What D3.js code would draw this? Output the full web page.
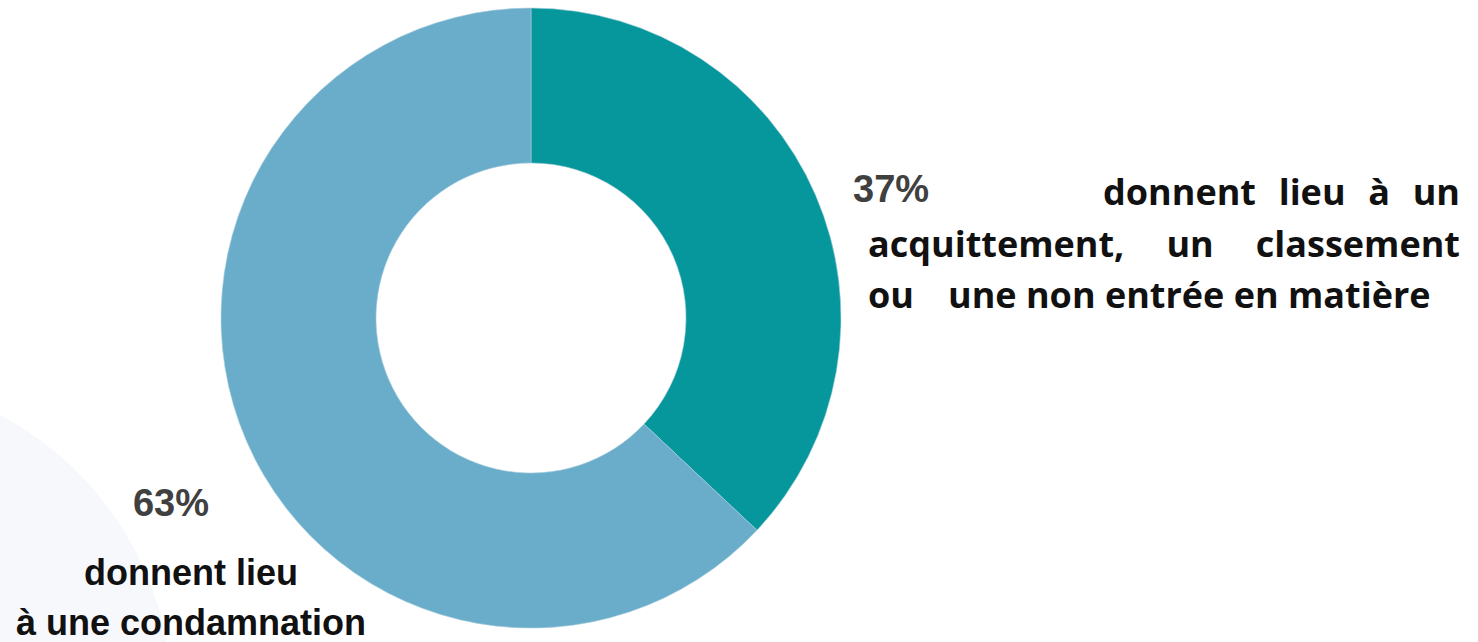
<!DOCTYPE html>
<html>
<head>
<meta charset="utf-8">
<script src="https://cdn.jsdelivr.net/npm/d3@7"></script>
<style>
  body { margin: 0; background: #fff; }
  svg { display: block; }
</style>
</head>
<body>
<div id="chart"></div>
<script>
const categories = ["acquittement", "condamnation"];
const shares = [37, 63];
const percentLabels = ["37%", "63%"];
const colors = ["#06979c", "#6aadca"];

const rightLines = [
  ["donnent", "lieu", "à", "un"],
  ["acquittement,", "un", "classement"],
  ["ou", "une non entrée en matière"]
];
const leftLines = ["donnent lieu", "à une condamnation"];

const width = 1478, height = 642;
const cx = 531, cy = 318, rOuter = 310, rInner = 155;

const svg = d3.select("#chart").append("svg")
  .attr("width", width)
  .attr("height", height);

// faint background shape bottom-left
svg.append("circle")
  .attr("cx", -150)
  .attr("cy", 700)
  .attr("r", 322)
  .attr("fill", "#f6f8fb");

const pie = d3.pie().sort(null).value(d => d);
const arc = d3.arc().innerRadius(rInner).outerRadius(rOuter);

const g = svg.append("g").attr("transform", `translate(${cx},${cy})`);
g.selectAll("path")
  .data(pie(shares))
  .join("path")
  .attr("d", arc)
  .attr("fill", (d, i) => colors[i])
  .attr("stroke", "#a9cfdd")
  .attr("stroke-width", 0.6);

// 37% label + justified text
svg.append("text")
  .attr("x", 853).attr("y", 202)
  .attr("font-family", "Liberation Sans, Arial, sans-serif")
  .attr("font-weight", "bold")
  .attr("font-size", 38)
  .attr("fill", "#404040")
  .text(percentLabels[0]);

const textFont = "'Open Sans', sans-serif";
const lineSpecs = [
  { y: 205, x0: 1103, x1: 1460, justify: true },
  { y: 257, x0: 868, x1: 1460, justify: true },
  { y: 308, x0: 868, x1: null, justify: false }
];

rightLines.forEach((words, li) => {
  const spec = lineSpecs[li];
  const nodes = words.map(w => svg.append("text")
    .attr("y", spec.y)
    .attr("font-family", textFont)
    .attr("font-weight", 700)
    .attr("font-size", 36)
    .attr("fill", "#111")
    .text(w));
  const widths = nodes.map(n => n.node().getComputedTextLength());
  if (spec.justify) {
    const total = d3.sum(widths);
    const gap = (spec.x1 - spec.x0 - total) / (words.length - 1);
    let x = spec.x0;
    nodes.forEach((n, i) => { n.attr("x", x); x += widths[i] + gap; });
  } else {
    nodes[0].attr("x", spec.x0);
    nodes[1].attr("x", 948);
  }
});

// 63% label
svg.append("text")
  .attr("x", 171).attr("y", 516)
  .attr("text-anchor", "middle")
  .attr("font-family", "Liberation Sans, Arial, sans-serif")
  .attr("font-weight", "bold")
  .attr("font-size", 38)
  .attr("fill", "#404040")
  .text(percentLabels[1]);

svg.selectAll("text.left")
  .data(leftLines)
  .join("text")
  .attr("class", "left")
  .attr("x", 191)
  .attr("y", (d, i) => 585 + i * 50)
  .attr("text-anchor", "middle")
  .attr("font-family", "Liberation Sans, Arial, sans-serif")
  .attr("font-weight", "bold")
  .attr("font-size", 36)
  .attr("fill", "#111")
  .text(d => d);
</script>
</body>
</html>
